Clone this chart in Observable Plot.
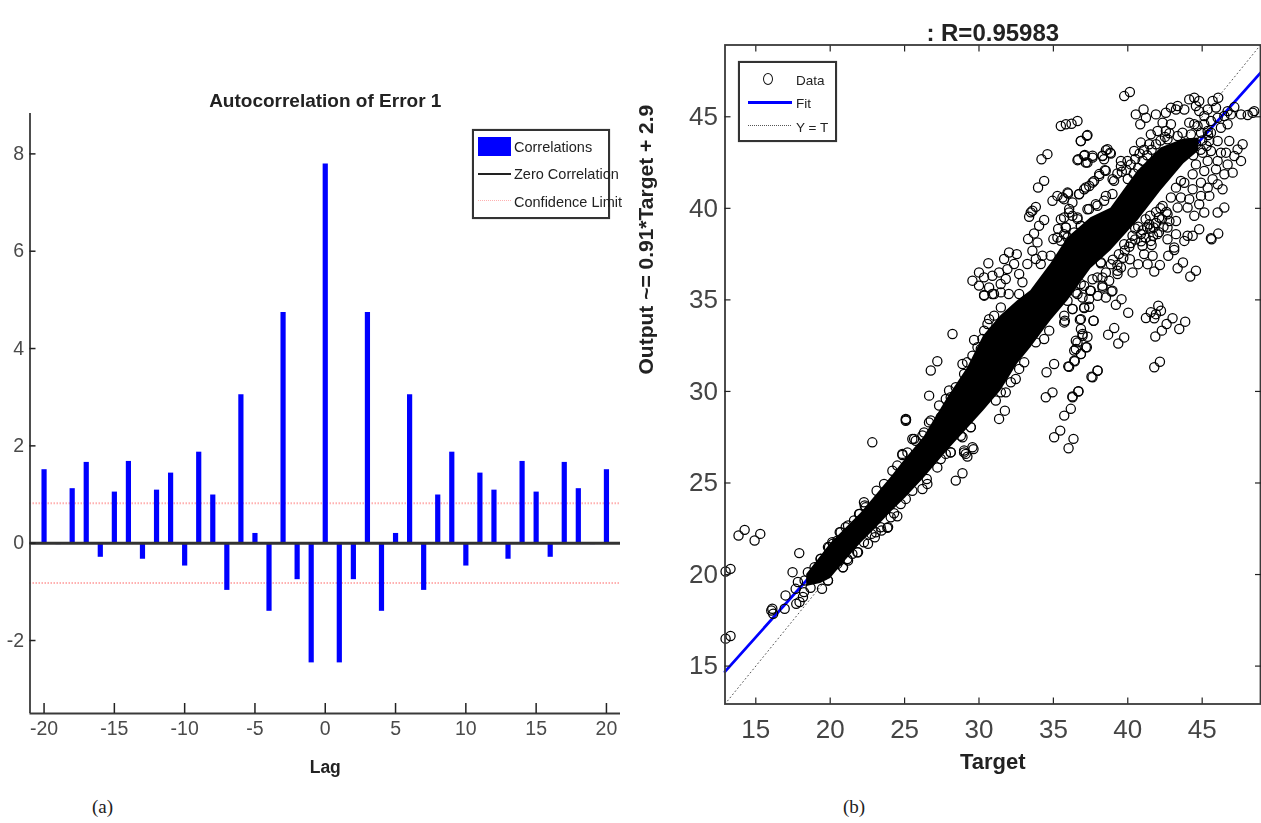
<!DOCTYPE html>
<html><head><meta charset="utf-8">
<script src="https://cdn.jsdelivr.net/npm/d3@7"></script>
<script src="https://cdn.jsdelivr.net/npm/@observablehq/plot@0.6"></script>
<style>
html,body{margin:0;padding:0;background:#fff}
#page{position:relative;width:1261px;height:823px;overflow:hidden;background:#fff;font-family:"Liberation Sans Narrow","Liberation Sans",sans-serif}
#page>div{position:absolute}
#a,#b{filter:blur(0.45px)}
.lg{border:2px solid #333;box-sizing:border-box;background:#fff;box-shadow:0 0 1px #888;color:#222;font-size:14.5px;filter:blur(0.35px)}
.lg span{position:absolute;white-space:nowrap;line-height:1}
.lg i{position:absolute;display:block}
.cap{font-family:"Liberation Serif",serif;font-size:19px;color:#222;line-height:1;white-space:nowrap}
</style></head><body>
<div id="page">
  <div id="a" style="left:0;top:0"></div>
  <div id="b" style="left:630px;top:0"></div>
  <div class="lg" style="left:472px;top:129px;width:138px;height:90px">
    <i style="left:4px;top:6px;width:33px;height:19px;background:#0000ff"></i><span style="left:40px;top:9px">Correlations</span>
    <i style="left:4px;top:42px;width:33px;height:2px;background:#222"></i><span style="left:40px;top:36px">Zero Correlation</span>
    <i style="left:4px;top:69px;width:33px;border-top:1.5px dotted #ffb0b0"></i><span style="left:40px;top:64px">Confidence Limit</span>
  </div>
  <div class="lg" style="left:738px;top:61px;width:99px;height:81px;font-size:13.5px">
    <i style="left:23px;top:10px;width:10px;height:12px;border:1.3px solid #111;border-radius:50%;box-sizing:border-box"></i><span style="left:56px;top:11px">Data</span>
    <i style="left:8px;top:38px;width:44px;height:3px;background:#0000ff"></i><span style="left:56px;top:34px">Fit</span>
    <i style="left:8px;top:62px;width:43px;border-top:1px dotted #555"></i><span style="left:56px;top:58px">Y = T</span>
  </div>
  <div class="cap" style="left:92px;top:797px">(a)</div>
  <div class="cap" style="left:843px;top:797px">(b)</div>
</div>
<script>
// ---------- panel (a): autocorrelation of error 1 ----------
const lags = [-20,-19,-18,-17,-16,-15,-14,-13,-12,-11,-10,-9,-8,-7,-6,-5,-4,-3,-2,-1,0,1,2,3,4,5,6,7,8,9,10,11,12,13,14,15,16,17,18,19,20];
const correlations = [1.51,-0.03,1.12,1.66,-0.29,1.05,1.68,-0.33,1.09,1.44,-0.47,1.87,0.99,-0.97,3.05,0.2,-1.40,4.74,-0.75,-2.46,7.79,-2.46,-0.75,4.74,-1.40,0.2,3.05,-0.97,0.99,1.87,-0.47,1.44,1.09,-0.33,1.68,1.05,-0.29,1.66,1.12,-0.03,1.51];
const confidenceLimits = [0.82,-0.82];
const lagDomain = [-21,21];
const corrDomain = [-3.5,8.83];
const lagTicks = [-20,-15,-10,-5,0,5,10,15,20];
const corrTicks = [-2,0,2,4,6,8];

// ---------- panel (b): regression of output on target ----------
const targetDomain = [12.93,48.92];
const outputDomain = [12.93,48.92];
const targetTicks = [15,20,25,30,35,40,45];
const outputTicks = [15,20,25,30,35,40,45];
const fitTarget = [12.93,48.92];
const fitOutput = [14.7,47.4];
const identity = [12.93,48.92];
// where the circles merge into solid black: target, lower edge, upper edge
const coreTarget = [18.42,19.36,20.03,21.04,22.05,23.06,24.07,25.08,26.29,27.9,29.24,30.32,31.47,32.6,33.48,34.83,35.97,37.52,38.86,40.68,42.22,43.77,44.78];
const coreLower  = [19.35,19.51,19.78,20.77,21.69,22.51,23.39,24.2,25.24,26.77,27.97,28.95,30.04,31.51,32.39,33.86,34.95,36.7,37.68,39.32,40.95,42.44,43.13];
const coreUpper  = [20.0,20.98,21.69,22.51,23.33,24.31,25.29,26.33,27.48,29.66,31.3,33.04,34.13,34.95,35.5,36.97,38.39,39.48,40.0,42.04,43.3,43.79,43.84];

const pointsLowEnd = [[13.84,22.13],[14.25,22.44],[14.92,21.86],[15.3,22.22],[12.97,20.17],[13.3,20.31],[12.97,16.5],[13.3,16.64],[17.92,21.17],[17.47,20.13],[16.11,18.13],[16.17,17.86],[16.04,18.04],[17.0,18.86],[16.94,18.13],[17.72,18.4],[17.68,19.22],[18.17,18.77],[17.94,18.5],[19.45,19.22],[19.85,19.68],[18.68,19.28],[20.86,20.4],[21.87,21.22],[23.89,22.59],[20.64,22.31],[19.85,21.5],[19.36,20.86],[18.5,20.13],[18.95,20.4],[21.2,22.68],[20.64,20.77],[21.2,20.77],[22.54,21.68],[23.0,22.04],[21.98,23.31],[22.32,23.77],[20.19,21.68],[18.28,19.68],[17.83,19.59],[18.24,19.04],[19.63,20.4],[20.3,21.13],[20.97,21.68],[21.53,22.04],[23.44,22.4]];
const pointsLowerBand = [[22.83,27.22],[25.08,28.4],[28.44,25.13],[28.89,25.53],[29.0,26.67],[29.22,26.44],[29.63,26.85],[23.84,22.55],[23.39,22.58],[24.51,23.18],[24.29,23.35],[25.08,24.13],[26.53,24.95],[26.49,25.22],[21.82,21.22],[20.86,20.4],[21.15,20.85],[19.85,19.67],[20.7,22.31],[21.04,22.58],[19.92,21.49],[19.36,20.85],[20.14,21.76],[21.94,23.31],[22.27,23.95],[22.38,23.67],[23.12,24.58],[24.18,25.67],[24.85,26.53],[25.75,27.31],[25.52,27.4],[26.64,28.31],[22.77,22.22],[27.2,25.85],[28.1,26.67],[28.78,27.58],[29.45,28.04],[26.31,27.76],[23.62,24.95],[24.51,25.95],[25.19,26.67],[21.6,22.95],[20.48,21.85],[26.2,24.67],[25.52,24.58],[24.74,23.85],[24.07,23.13],[23.06,22.31],[22.27,21.76],[21.49,21.13],[20.48,20.58],[27.43,26.31]];
const pointsMiddle = [[28.22,33.14],[27.2,31.65],[26.76,31.14],[26.65,29.77],[25.08,28.5],[25.1,28.45],[31.35,28.5],[31.74,28.95],[29.56,26.95],[29.11,26.59],[29.0,26.77],[34.54,31.05],[35.05,31.5],[34.49,29.68],[34.94,29.95],[35.73,28.68],[36.17,29.05],[36.29,29.68],[36.69,30.01],[35.05,27.5],[35.46,27.86],[36.02,26.9],[36.35,27.41],[37.63,30.77],[37.97,31.14],[36.06,31.35],[36.44,31.65],[36.4,32.23],[36.85,32.05],[37.25,32.41],[36.51,32.77],[36.96,33.14],[36.85,33.95],[37.7,33.86],[35.73,33.77],[35.73,34.14],[36.29,34.5],[37.07,34.59],[37.41,35.05],[30.35,35.23],[30.9,35.32],[31.47,35.41],[32.47,30.68],[32.14,30.5],[31.8,29.95],[31.47,29.95],[31.13,29.5],[33.04,31.59],[32.7,31.23],[34.72,33.32],[34.38,32.86],[33.82,32.68],[29.45,28.05],[28.89,27.5],[28.1,26.68],[27.77,26.59],[27.32,29.23],[26.76,28.41],[27.99,30.05],[28.1,29.68],[27.77,29.59],[29.67,32.81],[29.9,32.41],[29.56,31.95],[28.89,31.5],[29.0,30.95],[30.57,33.68],[30.35,33.32],[31.47,34.59],[31.02,34.14],[30.68,33.95],[30.23,32.86],[25.64,27.41],[26.2,27.59],[24.85,26.59],[27.43,28.59],[28.44,30.23],[29.2,31.59],[30.12,32.32]];
const pointsUpperLeft = [[34.2,42.68],[34.6,42.96],[33.97,41.14],[34.38,41.5],[33.37,39.54],[33.48,39.78],[33.82,40.08],[33.59,39.87],[33.3,38.32],[33.7,38.63],[34.04,39.05],[34.38,39.36],[34.94,40.41],[35.27,40.68],[35.72,40.5],[35.99,40.81],[35.0,38.32],[35.32,38.87],[35.72,39.5],[36.06,39.96],[36.62,42.63],[37.07,42.87],[37.63,42.87],[37.18,42.5],[36.84,43.68],[37.25,43.96],[38.3,42.87],[38.86,42.99],[38.64,43.23],[39.08,41.5],[38.52,42.05],[38.08,41.87],[37.63,41.41],[37.18,41.14],[36.73,40.78],[36.28,40.32],[37.4,39.96],[37.96,40.14],[38.41,40.41],[38.97,40.78],[29.56,36.05],[30.0,36.5],[30.63,37.0],[30.0,35.78],[30.34,35.27],[30.68,35.68],[31.01,35.32],[31.35,36.5],[31.69,37.23],[32.02,37.59],[32.54,37.5],[32.36,36.96],[31.91,36.68],[32.7,36.41],[33.25,36.96],[33.59,37.68],[33.82,37.23],[34.26,37.41],[33.93,38.14],[31.46,35.87],[32.0,35.32],[32.7,35.32],[32.92,35.96],[30.9,36.32],[30.34,36.23],[31.8,36.14],[34.15,36.96],[34.82,37.41],[35.5,38.23],[35.95,38.41],[36.4,38.68],[36.84,39.05],[36.62,39.41],[36.28,39.59],[35.83,38.96],[35.27,38.41],[35.72,38.59],[38.97,35.5],[38.19,37.05],[37.52,35.5],[38.3,35.68],[36.62,35.32],[39.31,36.59],[36.84,35.87],[37.96,36.23]];
const pointsUpperRight = [[39.76,46.13],[40.14,46.35],[35.5,44.5],[35.84,44.59],[36.22,44.62],[36.62,44.77],[36.85,43.68],[37.29,44.0],[36.67,42.68],[37.11,42.91],[37.63,42.77],[37.29,42.5],[38.3,42.86],[38.82,43.04],[38.53,43.17],[38.41,42.68],[40.54,45.13],[41.06,45.4],[40.84,44.59],[41.22,44.95],[41.89,45.13],[42.56,45.22],[42.9,45.5],[43.35,45.59],[43.24,45.4],[43.8,45.4],[44.13,45.95],[44.47,46.04],[44.8,45.86],[44.58,45.59],[45.7,45.86],[46.08,46.04],[45.93,45.5],[45.37,45.4],[45.14,45.04],[44.8,45.31],[47.16,45.53],[46.71,45.31],[46.93,45.13],[47.61,45.13],[48.06,45.1],[48.39,45.22],[48.5,45.31],[46.49,45.04],[46.04,44.95],[45.59,44.77],[45.14,44.59],[44.13,44.68],[43.68,44.13],[42.9,44.59],[42.34,44.68],[41.55,44.04],[42.0,44.22],[42.56,44.22],[40.88,43.59],[40.43,43.13],[39.98,42.59],[39.54,42.59],[38.98,41.59],[38.46,42.08],[38.08,41.77],[37.74,41.5],[37.41,41.22],[37.07,41.04],[36.73,40.77],[35.95,40.86],[35.61,40.59],[38.53,40.68],[37.85,40.22],[37.29,39.95],[36.62,39.5],[36.85,39.04],[36.06,39.77],[35.5,39.4],[35.84,38.95],[39.54,42.3],[39.3,41.9],[39.6,42.0],[39.9,42.1],[40.2,42.4],[40.5,42.7],[40.8,43.0],[41.1,43.2],[40.0,41.6],[40.4,41.9],[40.7,42.2],[41.0,42.6],[41.3,42.9],[41.6,43.2],[41.9,43.5],[42.2,43.7],[42.5,43.9],[42.8,44.1],[41.4,41.9],[45.37,44.22],[46.26,44.4],[44.47,44.59],[43.35,43.95],[42.67,43.77],[41.44,43.5],[45.59,44.13],[44.92,44.13],[46.71,44.59],[44.24,44.04],[44.69,44.5],[44.2,43.2],[44.6,43.5],[45.0,43.7],[45.4,44.0],[44.4,42.9],[44.9,43.2],[45.3,43.4]];
const pointsRightTail = [[47.72,43.5],[47.38,43.22],[46.82,43.68],[47.61,42.59],[47.16,42.86],[46.6,43.04],[46.04,43.68],[45.48,43.68],[46.26,43.04],[45.59,43.13],[46.04,42.59],[46.71,42.4],[47.05,41.95],[46.49,41.86],[45.93,42.13],[45.37,42.59],[45.03,43.04],[45.7,41.59],[45.14,42.04],[44.58,42.4],[44.36,41.86],[44.92,41.4],[45.37,41.13],[46.37,41.04],[46.04,41.31],[46.49,40.04],[46.04,39.77],[45.48,40.68],[44.92,40.68],[44.36,41.04],[43.8,41.4],[44.13,40.5],[43.57,40.59],[43.24,41.13],[44.8,40.22],[45.14,39.77],[44.47,39.59],[44.02,40.04],[43.35,40.04],[42.9,40.59],[42.67,39.68],[43.24,39.31],[42.34,40.13],[42.11,39.5],[44.8,38.86],[44.36,38.5],[44.02,38.5],[46.08,38.62],[45.63,38.31],[43.24,38.59],[43.8,38.22],[42.67,38.31],[42.0,38.59],[41.44,39.13],[40.88,38.59],[40.32,38.5],[39.76,38.04],[41.55,38.22],[40.99,37.95],[43.12,37.86],[41.73,38.95],[42.67,38.95],[43.57,41.5],[41.2,39.4],[41.5,39.6],[41.9,39.8],[42.2,40.0],[41.5,38.9],[41.9,39.2],[42.3,39.4],[42.6,39.8],[41.0,38.8],[41.3,39.0],[41.7,38.5],[42.1,38.7],[42.4,39.0],[42.8,39.3],[40.7,39.0],[40.9,38.2],[41.2,38.4],[41.6,38.0],[40.5,38.9],[40.2,38.1],[40.5,38.3],[39.8,37.7],[40.1,37.9],[39.4,37.5],[39.7,37.3],[39.0,37.2],[39.3,36.9]];
const pointsLowerTail = [[45.59,38.37],[44.2,36.28],[44.58,36.59],[43.35,36.73],[43.71,37.04],[42.72,37.41],[43.12,37.72],[41.78,36.55],[42.16,36.9],[41.33,36.95],[40.7,36.95],[40.32,36.5],[41.1,37.5],[41.67,37.41],[40.14,37.22],[39.54,36.77],[39.31,36.41],[38.86,36.95],[38.53,36.5],[38.19,37.0],[38.75,36.04],[38.3,35.77],[38.91,35.46],[38.53,35.13],[39.58,35.04],[39.2,34.73],[40.03,34.3],[42.05,34.68],[42.23,34.41],[41.55,34.32],[41.22,34.01],[41.89,34.22],[41.78,34.0],[43.01,34.0],[42.61,33.68],[42.29,33.32],[41.85,33.0],[43.86,33.81],[43.46,33.41],[39.09,33.46],[38.68,33.1],[39.76,32.95],[39.36,32.62],[42.16,31.62],[41.78,31.32],[37.97,31.13],[37.56,30.8],[36.67,30.0],[36.28,29.73],[36.4,31.68],[36.0,31.37],[36.85,32.04],[37.18,32.41],[36.51,32.32],[36.62,32.68],[36.96,33.04],[37.29,32.99],[36.85,33.41],[37.7,33.86],[36.78,33.92],[35.77,33.86],[36.28,34.5],[37.07,34.55],[37.41,34.62],[37.47,35.5],[36.96,35.13],[36.51,35.4],[35.95,34.95],[37.97,35.22],[38.3,36.22],[37.63,36.13],[37.07,35.77]];

const axisColor = "#3a3a3a";
const narrow = '"Liberation Sans Narrow","Liberation Sans",sans-serif';
const fmt = d => String(d);

const panelA = Plot.plot({
  width:630, height:823, marginLeft:29.5, marginRight:10, marginTop:113, marginBottom:110,
  x:{domain:lagDomain}, y:{domain:corrDomain},
  style:{background:"transparent",fontFamily:narrow,overflow:"visible"},
  marks:[
    Plot.ruleY(confidenceLimits,{stroke:"#ffb0b0",strokeWidth:2,strokeDasharray:"1.5 1.5"}),
    Plot.ruleX(lags.map((l,i)=>({l,v:correlations[i]})),{x:"l",y1:0,y2:"v",stroke:"#0000ff",strokeWidth:5.2}),
    Plot.ruleY([0],{stroke:"#333",strokeWidth:3}),
    Plot.ruleX([lagDomain[0]],{stroke:axisColor,strokeWidth:1.8}),
    Plot.ruleY([corrDomain[0]],{stroke:axisColor,strokeWidth:1.8}),
    Plot.axisX({ticks:lagTicks,tickFormat:fmt,tickSize:-10,tickPadding:18,stroke:"#222",strokeWidth:1.5,fontSize:19.5,color:"#4a4a4a",fill:"#4a4a4a",label:null}),
    Plot.axisY({ticks:corrTicks,tickFormat:fmt,tickSize:-6,tickPadding:12,stroke:"#222",strokeWidth:1.5,fontSize:19.5,fill:"#4a4a4a",label:null}),
    Plot.text(["Autocorrelation of Error 1"],{frameAnchor:"top",dy:-20,dx:0,fontSize:19,fontWeight:"bold",fill:"#222"}),
    Plot.text(["Lag"],{frameAnchor:"bottom",dy:59,fontSize:17.5,fontWeight:"bold",fill:"#222"})
  ]
});
document.getElementById("a").append(panelA);

const coreRows = coreTarget.map((x,i)=>({x,lo:coreLower[i],hi:coreUpper[i]}));
const allPoints = [...pointsLowEnd,...pointsLowerBand,...pointsMiddle,...pointsUpperLeft,...pointsUpperRight,...pointsRightTail,...pointsLowerTail];

const panelB = Plot.plot({
  width:631, height:823, marginLeft:94.5, marginRight:1, marginTop:44.5, marginBottom:119.5,
  x:{domain:targetDomain}, y:{domain:outputDomain},
  style:{background:"transparent",fontFamily:narrow,overflow:"visible"},
  marks:[
    Plot.line(identity.map(v=>[v,v]),{x:d=>d[0],y:d=>d[1],stroke:"#555",strokeWidth:1,strokeDasharray:"1 3"}),
    Plot.line(fitTarget.map((v,i)=>[v,fitOutput[i]]),{x:d=>d[0],y:d=>d[1],stroke:"#0000ff",strokeWidth:2.8}),
    Plot.areaY(coreRows,{x:"x",y1:"lo",y2:"hi",fill:"#000"}),
    Plot.dot(allPoints,{x:d=>d[0],y:d=>d[1],r:4.6,stroke:"#000",strokeWidth:1.25,fill:"none"}),
    Plot.frame({stroke:axisColor,strokeWidth:1.8}),
    Plot.axisX({ticks:targetTicks,tickFormat:fmt,anchor:"bottom",tickSize:-6,tickPadding:22,stroke:"#222",strokeWidth:1.2,fontSize:26,fill:"#444",label:null}),
    Plot.axisX({ticks:targetTicks,anchor:"top",tickSize:-6,tickFormat:()=>"",stroke:"#222",strokeWidth:1.2,label:null}),
    Plot.axisY({ticks:outputTicks,tickFormat:fmt,anchor:"left",tickSize:-6,tickPadding:13,stroke:"#222",strokeWidth:1.2,fontSize:26,fill:"#444",label:null}),
    Plot.axisY({ticks:outputTicks,anchor:"right",tickSize:-6,tickFormat:()=>"",stroke:"#222",strokeWidth:1.2,label:null}),
    Plot.text([": R=0.95983"],{frameAnchor:"top",dy:-21,fontSize:24,fontWeight:"bold",fill:"#222"}),
    Plot.text(["Target"],{frameAnchor:"bottom",dy:65,fontSize:22,fontWeight:"bold",fill:"#222"}),
    Plot.text(["Output ~= 0.91*Target + 2.9"],{frameAnchor:"left",dx:-79,rotate:-90,fontSize:21,fontWeight:"bold",fill:"#222",fontFamily:'"Liberation Sans",sans-serif'})
  ]
});
document.getElementById("b").append(panelB);
</script>
</body></html>
